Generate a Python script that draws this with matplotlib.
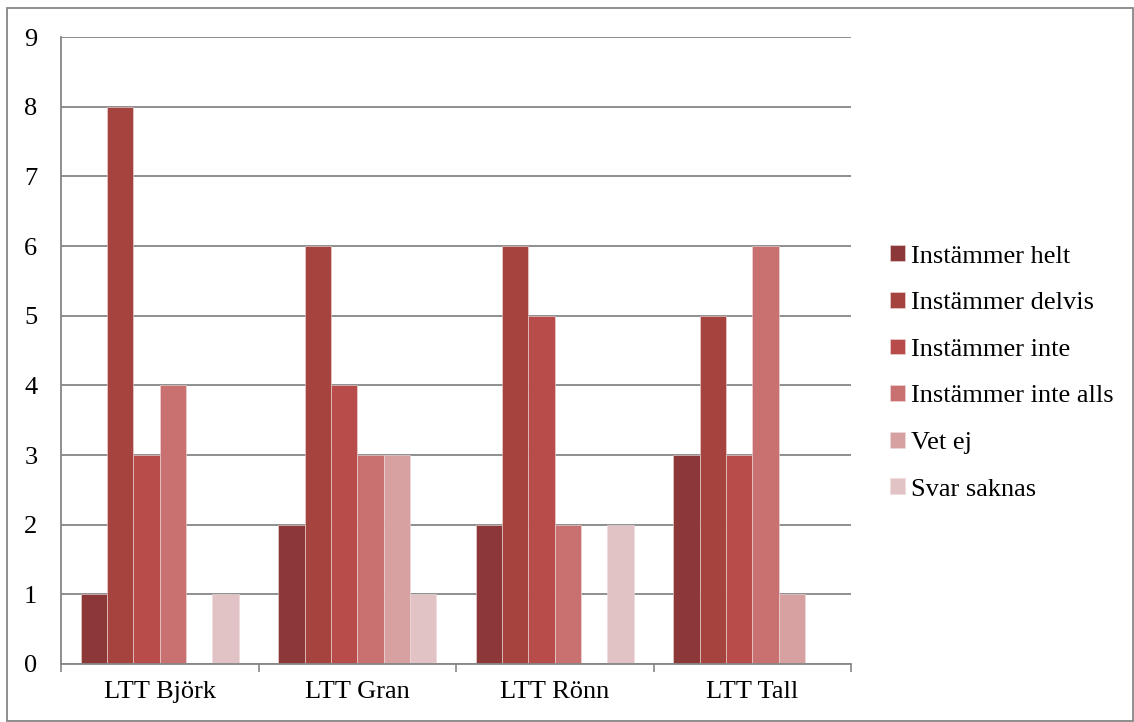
import matplotlib.pyplot as plt
import numpy as np
from matplotlib.patches import Rectangle

plt.rcParams['font.family'] = ['Liberation Serif', 'DejaVu Serif']

enheter = ['LTT Björk', 'LTT Gran', 'LTT Rönn', 'LTT Tall']
svar = ['Instämmer helt', 'Instämmer delvis', 'Instämmer inte',
        'Instämmer inte alls', 'Vet ej', 'Svar saknas']
helt = [1, 2, 2, 3]
delvis = [8, 6, 6, 5]
inte = [3, 4, 5, 3]
inte_alls = [4, 3, 2, 6]
vet_ej = [0, 3, 0, 1]
saknas = [1, 1, 2, 0]
farger = ['#8C3838', '#A5433F', '#B84C4A', '#C87170', '#D8A1A1', '#E2C3C5']

serier = [helt, delvis, inte, inte_alls, vet_ej, saknas]

fig = plt.figure(figsize=(11.34, 7.22), dpi=100)
ax = fig.add_axes([61/1134, 1 - 664/722, (851-61)/1134, (664-37)/722])

x = np.arange(len(enheter))
w = 0.133
for i, (vals, namn) in enumerate(zip(serier, svar)):
    pos = x - 2.5*w + i*w
    ax.bar(pos, vals, width=w, color=farger[i], label=namn,
           edgecolor='#F0DADA', linewidth=0.4, zorder=2)

ax.set_xlim(-0.5, 3.5)
ax.set_ylim(0, 9)
ax.set_yticks(range(10))
ax.set_xticks([-0.5, 0.5, 1.5, 2.5, 3.5], minor=True)
ax.set_xticks(x)
ax.set_xticklabels(enheter)
ax.tick_params(axis='x', which='major', length=0, pad=12, labelsize=19)
ax.tick_params(axis='x', which='minor', length=6, color='#868686', width=1.2)
ax.tick_params(axis='y', length=0, pad=17, labelsize=19)
ax.grid(axis='y', color='#868686', linewidth=1.3, zorder=0)
for s in ['top', 'right']:
    ax.spines[s].set_visible(False)
for s in ['left', 'bottom']:
    ax.spines[s].set_color('#868686')
    ax.spines[s].set_linewidth(1.3)

ax.legend(loc='center left', bbox_to_anchor=(890/1134, 1 - 373/722),
          bbox_transform=fig.transFigure, frameon=False, fontsize=19,
          handlelength=0.55, handleheight=0.55, handletextpad=0.25,
          labelspacing=0.92, borderaxespad=0, borderpad=0)

fig.patches.append(Rectangle((7/1134, 1/722), 1126/1134, 713/722,
                             transform=fig.transFigure, fill=False,
                             edgecolor='#868686', linewidth=1.3))

fig.savefig('out.png', dpi=100)
